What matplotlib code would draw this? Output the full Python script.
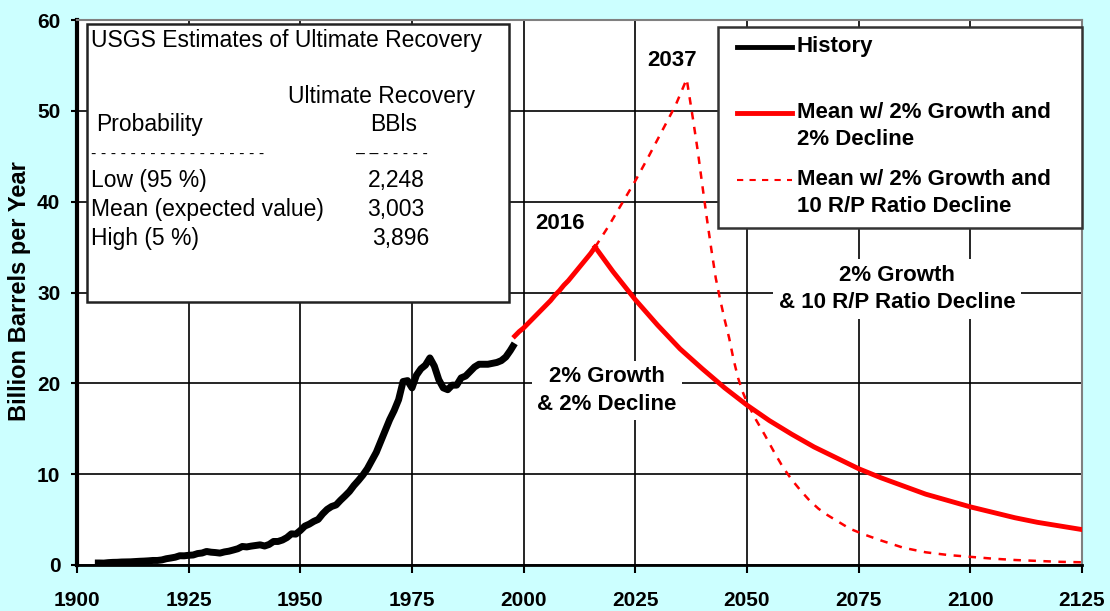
import numpy as np
import matplotlib
matplotlib.use("Agg")
import matplotlib.pyplot as plt
from matplotlib.patches import Rectangle
from matplotlib.lines import Line2D

plt.rcParams['font.family'] = ['Liberation Sans', 'DejaVu Sans']

# ---------------- data ----------------
hist_years = np.arange(1904, 1999)
hist_vals = [0.22, 0.22, 0.21, 0.26, 0.29, 0.30, 0.33, 0.34, 0.35, 0.38,
             0.41, 0.43, 0.46, 0.50, 0.50, 0.56, 0.69, 0.77, 0.86, 1.02,
             1.01, 1.07, 1.10, 1.26, 1.32, 1.49, 1.41, 1.37, 1.31, 1.44,
             1.52, 1.65, 1.79, 2.04, 1.99, 2.08, 2.15, 2.22, 2.09, 2.26,
             2.59, 2.59, 2.75, 3.02, 3.43, 3.40, 3.80, 4.28, 4.50, 4.80,
             5.02, 5.63, 6.12, 6.44, 6.61, 7.13, 7.60, 8.10, 8.75, 9.30,
             9.90, 10.6, 11.5, 12.4, 13.6, 14.8, 16.0, 17.0, 18.2, 20.2,
             20.3, 19.5, 20.9, 21.6, 22.0, 22.8, 21.9, 20.4, 19.5, 19.3,
             19.8, 19.8, 20.6, 20.8, 21.3, 21.8, 22.1, 22.1, 22.1, 22.2,
             22.3, 22.5, 22.9, 23.6, 24.4]

growth_years = [1998, 1999, 2000, 2001, 2002, 2003, 2004, 2005, 2006, 2007,
                2008, 2009, 2010, 2011, 2012, 2013, 2014, 2015, 2016]
growth_vals = [25.2, 25.7, 26.1, 26.6, 27.1, 27.6, 28.1, 28.6, 29.1, 29.7,
               30.2, 30.8, 31.3, 31.9, 32.5, 33.1, 33.7, 34.3, 35.0]

decl_years = [2016, 2020, 2025, 2030, 2035, 2040, 2045, 2050, 2055, 2060,
              2065, 2070, 2075, 2080, 2085, 2090, 2095, 2100, 2105, 2110,
              2115, 2120, 2125]
decl_vals = [35.0, 32.3, 29.2, 26.4, 23.8, 21.6, 19.5, 17.6, 15.9, 14.4,
             13.0, 11.8, 10.6, 9.6, 8.7, 7.8, 7.1, 6.4, 5.8, 5.2,
             4.7, 4.3, 3.9]

rp_years = [2016, 2019, 2022, 2025, 2028, 2031, 2034, 2036.5, 2038, 2039,
            2040, 2041, 2042, 2043, 2044, 2045, 2046, 2047, 2048, 2049,
            2050, 2052, 2054, 2056, 2058, 2060, 2062, 2064, 2066, 2068,
            2070, 2073, 2076, 2080, 2085, 2090, 2095, 2100, 2105, 2110,
            2115, 2120, 2125]
rp_vals = [35.0, 37.3, 39.8, 42.3, 45.0, 47.8, 50.6, 53.5, 48.8, 45.5,
           41.8, 38.2, 34.8, 31.6, 29.2, 27.0, 25.0, 22.6, 20.6, 19.1,
           17.9, 16.0, 14.3, 12.5, 10.8, 9.4, 8.2, 7.1, 6.2, 5.5,
           4.9, 4.0, 3.4, 2.7, 1.9, 1.4, 1.1, 0.9, 0.7, 0.55,
           0.45, 0.35, 0.3]

x_ticks = [1900, 1925, 1950, 1975, 2000, 2025, 2050, 2075, 2100, 2125]
y_ticks = [0, 10, 20, 30, 40, 50, 60]

table_title = "USGS Estimates of Ultimate Recovery"
table_rows = ["Low (95 %)", "Mean (expected value)", "High (5 %)"]
table_vals = ["2,248", "3,003", "3,896"]

legend_labels = ["History", "Mean w/ 2% Growth and\n2% Decline",
                 "Mean w/ 2% Growth and\n10 R/P Ratio Decline"]

# ---------------- figure ----------------
W, H = 1110, 611
fig = plt.figure(figsize=(W / 100, H / 100), dpi=100, facecolor='#CCFFFF')

def fx(px):
    return px / W

def fy(py):
    return 1 - py / H

L, R, T, B = 77, 1082, 20, 565
ax = fig.add_axes([fx(L), fy(B), fx(R - L), (B - T) / H])
ax.set_facecolor('white')

ax.plot(hist_years, hist_vals, color='black', lw=5, zorder=4,
        solid_capstyle='butt')
ax.plot(growth_years, growth_vals, color='#FF0000', lw=3.5, zorder=4)
ax.plot(decl_years, decl_vals, color='#FF0000', lw=3.5, zorder=4)
ax.plot(rp_years, rp_vals, color='#FF0000', lw=1.8, zorder=3,
        linestyle=(0, (3, 3)))

ax.set_xlim(1900, 2125)
ax.set_ylim(0, 60)
ax.set_xticks(x_ticks)
ax.set_yticks(y_ticks)
ax.grid(True, color='black', lw=1.2, zorder=1)
ax.set_axisbelow(True)

for lab in ax.get_xticklabels() + ax.get_yticklabels():
    lab.set_fontweight('bold')
ax.tick_params(axis='x', length=6, width=1.5, pad=13, labelsize=15,
               direction='out', colors='black')
ax.tick_params(axis='y', length=4, width=1.5, pad=8, labelsize=15,
               direction='out', colors='black')

ax.spines['left'].set_linewidth(3)
ax.spines['left'].set_color('black')
ax.spines['bottom'].set_linewidth(2)
ax.spines['bottom'].set_color('black')
ax.spines['top'].set_linewidth(1.5)
ax.spines['top'].set_color('#808080')
ax.spines['right'].set_linewidth(1.5)
ax.spines['right'].set_color('#808080')

fig.text(fx(20), fy(291), "Billion Barrels per Year", rotation=90,
         ha='center', va='center', fontsize=17, fontweight='bold')

# annotations
ax.text(2008.1, 37.6, "2016", ha='center', va='center', fontsize=16,
        fontweight='bold', zorder=6)
ax.text(2033.2, 55.5, "2037", ha='center', va='center', fontsize=16,
        fontweight='bold', zorder=6)
ax.text(2018.6, 19.2, "2% Growth\n& 2% Decline", ha='center', va='center',
        fontsize=16, fontweight='bold', linespacing=1.4, zorder=6,
        bbox=dict(facecolor='white', edgecolor='none', pad=4))
ax.text(2083.6, 30.4, "2% Growth\n& 10 R/P Ratio Decline", ha='center',
        va='center', fontsize=16, fontweight='bold', linespacing=1.4,
        zorder=6, bbox=dict(facecolor='white', edgecolor='none', pad=4))

# ---------------- table box ----------------
fig.add_artist(Rectangle((fx(87), fy(302)), fx(509 - 87), (302 - 24) / H,
                         transform=fig.transFigure, facecolor='white',
                         edgecolor='#222222', lw=1.8, zorder=5))
tkw = dict(transform=fig.transFigure, fontsize=16.5, va='center', zorder=6)
fig.text(fx(91), fy(40), table_title, ha='left', **tkw)
fig.text(fx(382), fy(97), "Ultimate Recovery", ha='center', **tkw)
fig.text(fx(96), fy(124), "Probability", ha='left', **tkw)
fig.text(fx(394), fy(124), "BBls", ha='center', **tkw)
fig.text(fx(91), fy(154), "- - - - - - - - - - - - - - - - - -", ha='left',
         transform=fig.transFigure, fontsize=11.5, va='center', zorder=6)
fig.text(fx(392), fy(154), "\u2013 \u2013 - - - - -", ha='center',
         transform=fig.transFigure, fontsize=11.5, va='center', zorder=6)
for i, (rname, rval) in enumerate(zip(table_rows, table_vals)):
    yy = 181 + i * 28.5
    fig.text(fx(91), fy(yy), rname, ha='left', **tkw)
    fig.text(fx(396 + (5 if i == 2 else 0)), fy(yy), rval, ha='center', **tkw)

# ---------------- legend box ----------------
fig.add_artist(Rectangle((fx(718), fy(228)), fx(1082 - 718), (228 - 27) / H,
                         transform=fig.transFigure, facecolor='white',
                         edgecolor='#333333', lw=1.8, zorder=5))
handle_styles = [dict(color='black', lw=3.5, linestyle='-'),
                 dict(color='#FF0000', lw=3.5, linestyle='-'),
                 dict(color='#FF0000', lw=1.5, linestyle=(0, (3, 3)))]
handle_y = [47, 113, 180]
for lab, st, hy in zip(legend_labels, handle_styles, handle_y):
    fig.add_artist(Line2D([fx(737), fx(792)], [fy(hy), fy(hy)],
                          transform=fig.transFigure, zorder=6, **st))
    fig.text(fx(797), fy(hy - 11), lab, ha='left', va='top',
             transform=fig.transFigure, fontsize=16, fontweight='bold',
             linespacing=1.4, zorder=6)

fig.savefig("out.png", dpi=100, facecolor=fig.get_facecolor())
